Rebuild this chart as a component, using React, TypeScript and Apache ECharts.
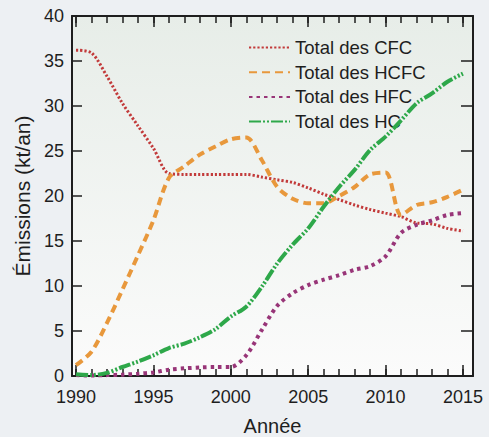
import React, { useEffect, useRef } from "react";
import * as echarts from "echarts";

const years = [
  1990, 1991, 1992, 1993, 1994, 1995, 1996, 1997, 1998, 1999, 2000, 2001, 2002,
  2003, 2004, 2005, 2006, 2007, 2008, 2009, 2010, 2011, 2012, 2013, 2014, 2015,
];
const majorYears = [1990, 1995, 2000, 2005, 2010, 2015];
const cfc = [
  36.2, 35.9, 33.3, 30.3, 27.8, 25.3, 22.5, 22.4, 22.4, 22.4, 22.4, 22.4, 22.1,
  21.8, 21.5, 20.9, 20.2, 19.6, 19.0, 18.5, 18.1, 17.7, 17.0, 16.9, 16.4, 16.1,
];
const hcfc = [
  1.2, 2.7, 5.9, 9.6, 13.4, 17.3, 22.0, 23.3, 24.6, 25.5, 26.3, 26.5, 24.0,
  21.0, 19.7, 19.2, 19.2, 20.0, 21.0, 22.4, 22.6, 17.9, 19.0, 19.3, 19.9, 20.7,
];
const hfc = [
  0.1, 0.05, 0.1, 0.15, 0.25, 0.4, 0.7, 0.85, 0.95, 1.0, 1.0, 2.3, 5.1, 7.8,
  9.2, 10.1, 10.7, 11.2, 11.8, 12.2, 13.3, 15.9, 16.8, 17.3, 17.9, 18.1,
];
const hc = [
  0.2, 0.1, 0.35, 1.0, 1.6, 2.3, 3.1, 3.6, 4.3, 5.2, 6.6, 7.7, 9.9, 12.5, 14.6,
  16.4, 18.8, 21.0, 22.9, 25.1, 26.6, 28.4, 30.3, 31.4, 32.7, 33.6,
];
const seriesNames = ["Total des CFC", "Total des HCFC", "Total des HFC", "Total des HC"];
const xAxisName = "Année";
const yAxisName = "Émissions (kt/an)";

const FONT = "'Liberation Sans', Arial, sans-serif";
const INK = "#1e1e1e";
const XMIN = 1989.74;
const XMAX = 2015.65;

export default function App() {
  const ref = useRef<HTMLDivElement>(null);
  useEffect(() => {
    if (!ref.current) return;
    const chart = echarts.init(ref.current, undefined, { renderer: "svg" });
    const gridBox = { left: 72, right: 16, top: 16, bottom: 61, outerBoundsMode: "none", containLabel: false };
    const pair = (arr: number[]) => years.map((y, i) => [y, arr[i]]);
    const styles = [
      { color: "#c23a3a", width: 3, type: [2.2, 2] },
      { color: "#e8983c", width: 4, type: [8, 5] },
      { color: "#983578", width: 4, type: [3.5, 4] },
      { color: "#2ea84a", width: 4, type: [12, 2, 2, 2, 2, 2] },
    ];
    const datas = [cfc, hcfc, hfc, hc];
    const xBase = (grid: number, pos: string) => ({
      type: "value",
      gridIndex: grid,
      position: pos,
      min: XMIN,
      max: XMAX,
      splitLine: { show: false },
      axisLine: { show: true, onZero: false, lineStyle: { color: INK, width: 2 } },
    });
    const option: any = {
      animation: false,
      textStyle: { fontFamily: FONT },
      grid: [
        {
          ...gridBox,
          show: true,
          borderWidth: 0,
          backgroundColor: new echarts.graphic.LinearGradient(0, 0, 0, 1, [
            { offset: 0, color: "#e7ede8" },
            { offset: 1, color: "#fbfbfb" },
          ]),
        },
        { ...gridBox },
      ],
      legend: {
        orient: "vertical",
        left: 248,
        top: 38,
        padding: 0,
        itemWidth: 41,
        itemHeight: 12,
        itemGap: 5.7,
        data: seriesNames,
        itemStyle: { opacity: 0 },
        textStyle: { fontSize: 18.5, color: INK, fontFamily: FONT, lineHeight: 18 },
      },
      xAxis: [
        {
          ...xBase(0, "bottom"),
          name: xAxisName,
          nameLocation: "middle",
          nameGap: 40,
          nameTextStyle: { fontSize: 20, color: INK, fontFamily: FONT },
          axisTick: {
            show: true,
            inside: true,
            length: 11,
            customValues: majorYears,
            lineStyle: { color: INK, width: 1.5 },
          },
          axisLabel: {
            show: true,
            customValues: majorYears,
            formatter: (v: number) => String(Math.round(v)),
            fontSize: 18,
            color: INK,
            margin: 12,
            fontFamily: FONT,
          },
        },
        {
          ...xBase(0, "top"),
          axisTick: {
            show: true,
            inside: true,
            length: 11,
            customValues: majorYears,
            lineStyle: { color: INK, width: 1.5 },
          },
          axisLabel: { show: false },
        },
        {
          ...xBase(1, "bottom"),
          axisLine: { show: false },
          axisTick: {
            show: true,
            inside: true,
            length: 7,
            customValues: years,
            lineStyle: { color: INK, width: 1.5 },
          },
          axisLabel: { show: false },
        },
        {
          ...xBase(1, "top"),
          axisLine: { show: false },
          axisTick: {
            show: true,
            inside: true,
            length: 7,
            customValues: years,
            lineStyle: { color: INK, width: 1.5 },
          },
          axisLabel: { show: false },
        },
      ],
      yAxis: [
        {
          type: "value",
          gridIndex: 0,
          position: "left",
          min: 0,
          max: 40,
          interval: 5,
          splitLine: { show: false },
          axisLine: { show: true, onZero: false, lineStyle: { color: INK, width: 2 } },
          axisTick: { show: true, inside: true, length: 10, lineStyle: { color: INK, width: 1.5 } },
          axisLabel: { fontSize: 18, color: INK, margin: 8, fontFamily: FONT },
          name: yAxisName,
          nameLocation: "middle",
          nameGap: 35,
          nameTextStyle: { fontSize: 21, color: INK, fontFamily: FONT },
        },
        {
          type: "value",
          gridIndex: 0,
          position: "right",
          min: 0,
          max: 40,
          interval: 5,
          splitLine: { show: false },
          axisLine: { show: true, onZero: false, lineStyle: { color: INK, width: 2 } },
          axisTick: { show: true, inside: true, length: 12, lineStyle: { color: INK, width: 1.5 } },
          axisLabel: { show: false },
        },
        {
          type: "value",
          gridIndex: 1,
          min: 0,
          max: 40,
          show: false,
        },
      ],
      series: seriesNames.map((name, i) => ({
        name,
        type: "line",
        xAxisIndex: 0,
        yAxisIndex: 0,
        data: pair(datas[i]),
        symbol: "none",
        showSymbol: false,
        smooth: 0.3,
        lineStyle: { ...styles[i], cap: "butt" },
        itemStyle: { color: styles[i].color },
        z: 2 + i,
      })),
    };
    chart.setOption(option);
    return () => chart.dispose();
  }, []);
  return (
    <div
      style={{
        position: "absolute",
        left: 0,
        top: 0,
        width: 489,
        height: 437,
        background: "#edf0f3",
      }}
    >
      <div ref={ref} style={{ width: 489, height: 437 }} />
    </div>
  );
}
